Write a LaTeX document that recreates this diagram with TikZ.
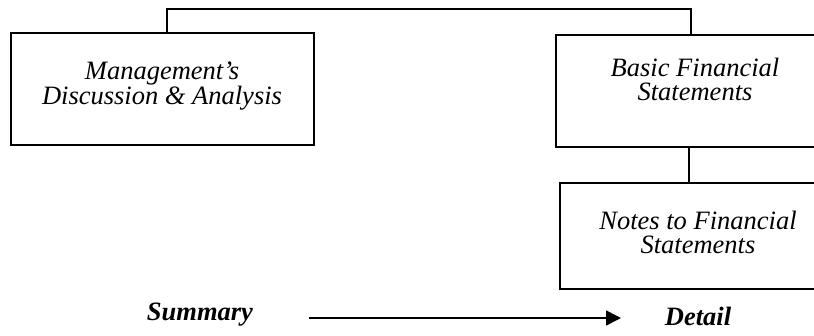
\documentclass[tikz,border=0pt]{standalone}
\usepackage{fontspec}
\setmainfont{Liberation Serif}
\usetikzlibrary{arrows.meta}
\begin{document}
\begin{tikzpicture}[x=1pt,y=-1pt,
  box/.style={draw=black,line width=1.6pt,fill=white},
  lbl/.style={font=\fontsize{26.5}{24}\selectfont\itshape,align=center,inner sep=0pt},
  conn/.style={draw=black,line width=1.6pt},
  axislbl/.style={font=\fontsize{26.5}{24}\selectfont\bfseries\itshape,inner sep=0pt}]
\useasboundingbox (0,0) rectangle (814,335);
\begin{scope}
\clip (0,0) rectangle (814,335);
\draw[box] (11,33) rectangle (314,145);
\draw[box] (556,35) rectangle (830,147);
\draw[box] (560,183) rectangle (830,289);
\coordinate (mtop) at (167,33);
\coordinate (btop) at (691,35);
\coordinate (bbot) at (689,147);
\coordinate (ntop) at (689,183);
\draw[conn] (mtop) -- (167,9) -- (691,9) -- (btop);
\draw[conn] (bbot) -- (ntop);
\end{scope}
\node[lbl] (m) at (162,86) {Management’s\\Discussion \& Analysis};
\node[lbl] (b) at (695,79) {Basic Financial\\Statements};
\node[lbl] (n) at (698,232) {Notes to Financial\\Statements};
\node[axislbl] (s) at (200,315) {Summary};
\node[axislbl] (d) at (698,316) {Detail};
\coordinate (a1) at (309,318);
\coordinate (a2) at (621,318);
\draw[conn,-{Triangle[length=15pt,width=15pt]}] (a1) -- (a2);
\end{tikzpicture}
\end{document}
